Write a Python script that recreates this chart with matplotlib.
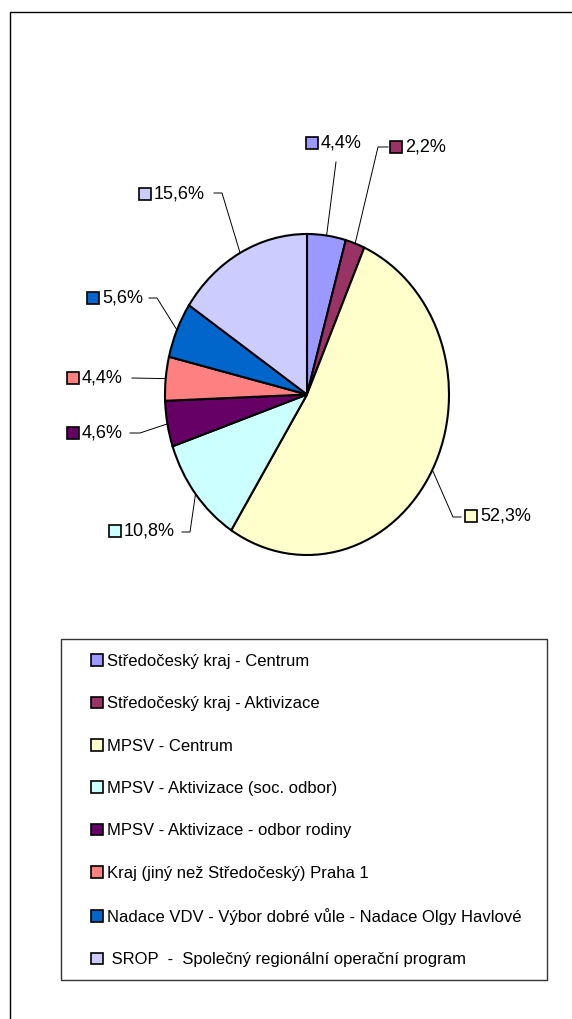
import matplotlib
matplotlib.use("Agg")
import matplotlib.pyplot as plt
import numpy as np

plt.rcParams['font.family'] = ['Liberation Sans', 'DejaVu Sans']

# data
categories = [
    "Středočeský kraj - Centrum",
    "Středočeský kraj - Aktivizace",
    "MPSV - Centrum",
    "MPSV - Aktivizace (soc. odbor)",
    "MPSV - Aktivizace - odbor rodiny",
    "Kraj (jiný než Středočeský) Praha 1",
    "Nadace VDV - Výbor dobré vůle - Nadace Olgy Havlové",
    " SROP  -  Společný regionální operační program",
]
shares = [4.4, 2.2, 52.3, 10.8, 4.6, 4.4, 5.6, 15.6]
colors = ['#9999FF', '#993366', '#FFFFCC', '#CCFFFF',
          '#660066', '#FF8080', '#0066CC', '#CCCCFF']

W, H = 572, 1019
# pie ellipse in pixels (the original is slightly stretched vertically)
CX, CY, RX, RY = 307, 394.5, 142, 160.5

# label layout (pixels): key square centre, then leader elbow points
label_pos = [(312, 143), (396, 147), (471, 516), (115, 531),
             (73, 433), (73, 378), (93, 298), (145, 194)]
leaders = [[(336, 162)], [(378, 147), (388, 147)], [(453, 517), (461, 517)],
           [(190, 532), (182, 532)], [(140, 433), (130, 433)], [(132, 378)],
           [(157, 298), (149, 298)], [(222, 193), (214, 193)]]


def px(x, y):
    return (x - CX) / RX, (CY - y) / RY


fig = plt.figure(figsize=(W / 100, H / 100), dpi=100)

# outer chart frame (runs off the right and bottom edge)
fig.patches.append(plt.Rectangle((10 / W, -0.1), 1.0, (H - 12) / H + 0.1,
                                 transform=fig.transFigure, fill=False,
                                 edgecolor='black', linewidth=1.0))

ax = fig.add_axes([(CX - RX) / W, (H - CY - RY) / H, 2 * RX / W, 2 * RY / H])
wedges, _ = ax.pie(shares, colors=colors, startangle=90, counterclock=False,
                   wedgeprops=dict(edgecolor='black', linewidth=1.5))
ax.set_aspect('auto')
ax.set_xlim(-1, 1)
ax.set_ylim(-1, 1)

for w, val, col, (sx, sy), elbow in zip(wedges, shares, colors, label_pos, leaders):
    mid = np.deg2rad((w.theta1 + w.theta2) / 2)
    pts = [(np.cos(mid), np.sin(mid))] + [px(x, y) for x, y in elbow]
    xs, ys = zip(*pts)
    ax.plot(xs, ys, color='black', linewidth=0.7, clip_on=False)
    kx, ky = px(sx, sy)
    ax.plot([kx], [ky], marker='s', markersize=8, markerfacecolor=col,
            markeredgecolor='black', markeredgewidth=1.2, clip_on=False)
    tx, ty = px(sx + 9, sy)
    ax.text(tx, ty, "{:.1f}%".format(val).replace('.', ','), fontsize=13,
            ha='left', va='center')

# legend box
fig.patches.append(plt.Rectangle((61 / W, 1 - 980 / H), 486 / W, 341 / H,
                                 transform=fig.transFigure, fill=False,
                                 edgecolor='#333333', linewidth=1.0))
leg = fig.legend(wedges, categories, loc='upper left',
                 bbox_to_anchor=(91 / W, 1 - 654 / H), frameon=False,
                 fontsize=12, borderpad=0, borderaxespad=0,
                 handlelength=0.7, handleheight=0.7, handletextpad=0.25,
                 labelspacing=1.64)
for h in leg.legend_handles:
    h.set_linewidth(1.2)

fig.savefig("out.png", dpi=100)
